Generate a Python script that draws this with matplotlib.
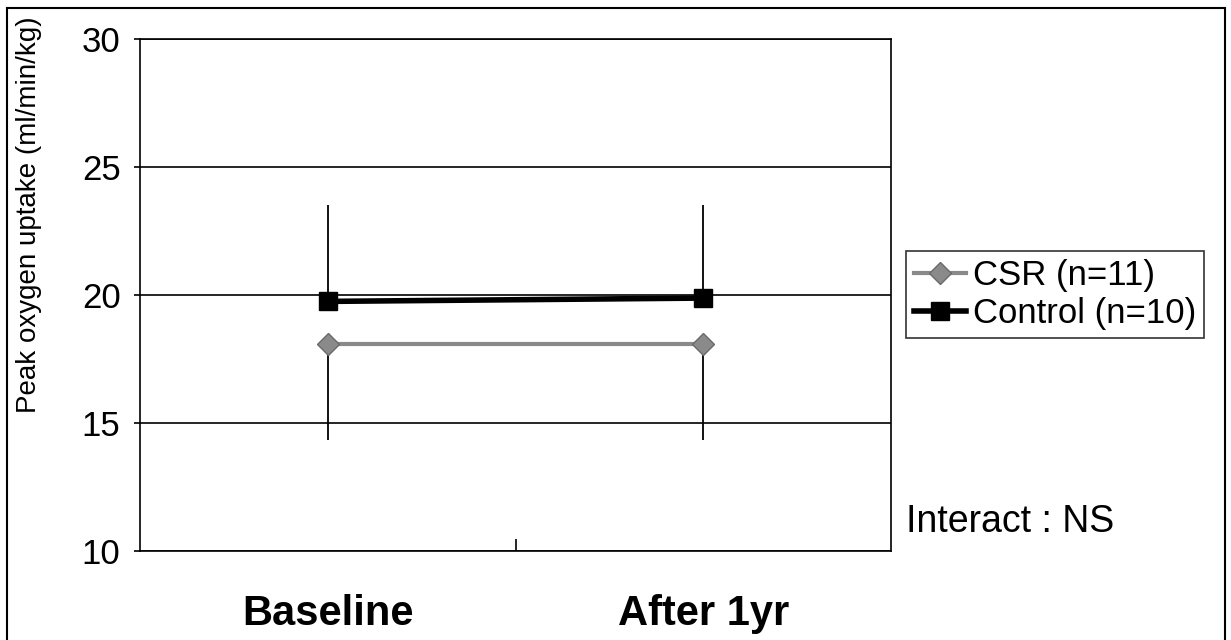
import matplotlib
matplotlib.use("Agg")
import matplotlib.pyplot as plt
from matplotlib.patches import Rectangle
import numpy as np

plt.rcParams['font.family'] = ['Liberation Sans', 'DejaVu Sans']

# data
timepoints = ["Baseline", "After 1yr"]
csr_mean = [18.1, 18.1]
csr_sd = [3.75, 3.75]
ctrl_mean = [19.75, 19.88]
ctrl_sd = [3.77, 3.63]
yticks = [10, 15, 20, 25, 30]

W, H = 1231, 640
fig = plt.figure(figsize=(W / 100, H / 100), dpi=100)
ax = fig.add_axes([140 / W, 1 - 551 / H, 751 / W, 512 / H])

x = np.arange(len(timepoints))

# error bars: upward for control, downward for CSR
ax.errorbar(x, ctrl_mean, yerr=[np.zeros(2), ctrl_sd], fmt='none',
            ecolor='black', elinewidth=1.3, capsize=0, zorder=3)
ax.errorbar(x, csr_mean, yerr=[csr_sd, np.zeros(2)], fmt='none',
            ecolor='black', elinewidth=1.3, capsize=0, zorder=3)

ax.plot(x, csr_mean, color='#8a8a8a', lw=3, marker='D', ms=11,
        mfc='#8a8a8a', mec='#6a6a6a', label='CSR (n=11)', zorder=4)
ax.plot(x, ctrl_mean, color='black', lw=4, marker='s', ms=13.5,
        label='Control (n=10)', zorder=5)

ax.set_xlim(-0.5, 1.5)
ax.set_ylim(10, 30)
ax.set_yticks(yticks)
ax.yaxis.grid(True, color='black', lw=1.2)
ax.set_axisbelow(True)

ax.set_xticks(x)
ax.set_xticklabels(timepoints, fontsize=30, fontweight='bold')
ax.tick_params(axis='x', length=0, pad=31)
ax.set_xticks([0.5], minor=True)
ax.tick_params(axis='x', which='minor', direction='in', length=9, width=1.2)
ax.tick_params(axis='y', labelsize=25, length=4, width=1.2, pad=10)
for s in ax.spines.values():
    s.set_linewidth(1.2)

fig.text(29 / W, 1 - 215 / H, 'Peak oxygen uptake (ml/min/kg)', rotation=90,
         fontsize=20, ha='center', va='center')
fig.text(906 / W, 1 - 522 / H, 'Interact : NS', fontsize=27, ha='left', va='center')

leg = ax.legend(loc='center left', bbox_to_anchor=(906 / W, 1 - 294.5 / H),
                bbox_transform=fig.transFigure, fontsize=25, frameon=True,
                fancybox=False, edgecolor='black', handlelength=1.5,
                handletextpad=0.2, borderpad=0.22, labelspacing=0.14,
                borderaxespad=0)
leg.get_frame().set_linewidth(1.2)

# outer border around the whole chart (bottom edge is cut off)
fig.add_artist(Rectangle((7 / W, -0.05), (1225 - 7) / W, 1.05 - 8 / H,
                         transform=fig.transFigure, fill=False,
                         edgecolor='black', lw=1.5))

fig.savefig('out.png', dpi=100)
